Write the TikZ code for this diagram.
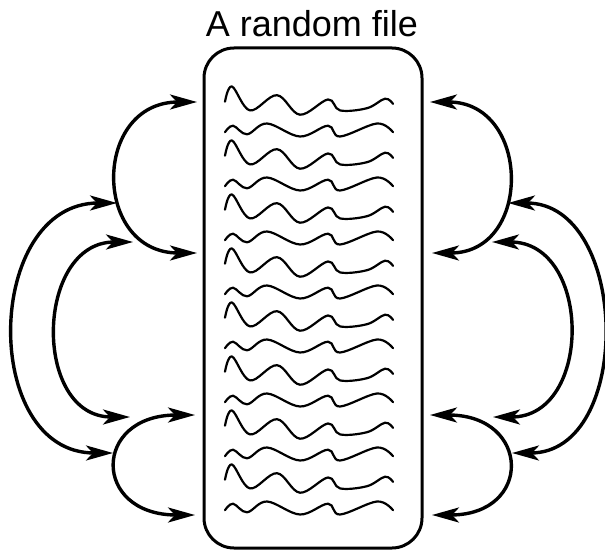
\documentclass[tikz,border=0pt]{standalone}
\usepackage{fontspec}
\setmainfont{Liberation Sans}
\usetikzlibrary{positioning,arrows.meta}

\begin{document}
\begin{tikzpicture}[x=1pt,y=1pt,
  filebox/.style={draw,line width=3pt,rounded corners=30pt,minimum width=218pt,minimum height=500pt},
  wave/.style={line width=2.2pt,line cap=round,line join=round},
  swap/.style={line width=3.4pt,{Stealth[length=27pt,width=15pt,inset=7pt]}-{Stealth[length=27pt,width=15pt,inset=7pt]}}]
\useasboundingbox (0,0) rectangle (605,550);
\node[filebox] (file) at (313,252) {};
\node[font=\fontsize{36}{40}\selectfont,anchor=base] (title) at (312,513) {A random file};
%----lines of the file----%
\foreach \i in {0,2,...,14}
  \draw[wave,shift={(225,447-27*\i)},yscale=1.3] plot[smooth,tension=0.6] coordinates {(0,1) (7,12.7) (25,-5.7) (52,6) (75,-9) (103,2.7) (115,-5.7) (142,-4) (160,3.3) (168,-0.7)};
\foreach \i in {1,3,...,15}
  \draw[wave,shift={(225,447-27*\i)},yscale=1.3] plot[smooth,tension=0.6] coordinates {(0,-1.7) (8,3.3) (22,-3.3) (42,5) (75,-5) (103,3.3) (115,-5) (152,5) (168,-1.7)};
%----left----%
\coordinate (l1a) at (197,448); \coordinate (l1b) at (197,297);
\coordinate (l2a) at (117,347); \coordinate (l2b) at (113,97);
\coordinate (l3a) at (133,308); \coordinate (l3b) at (130,133);
\coordinate (l4a) at (195,135); \coordinate (l4b) at (195,35);
\draw[swap] (l1a) to[out=180,in=180,distance=105pt] (l1b);
\draw[swap] (l2a) to[out=180,in=180,distance=133pt] (l2b);
\draw[swap] (l3a) to[out=180,in=180,distance=98pt] (l3b);
\draw[swap] (l4a) to[out=180,in=180,distance=103pt] (l4b);
%----right----%
\coordinate (r1a) at (430,448); \coordinate (r1b) at (432,297);
\coordinate (r2a) at (508,347); \coordinate (r2b) at (512,97);
\coordinate (r3a) at (492,308); \coordinate (r3b) at (493,133);
\coordinate (r4a) at (430,135); \coordinate (r4b) at (432,35);
\draw[swap] (r1a) to[out=0,in=0,distance=101pt] (r1b);
\draw[swap] (r2a) to[out=0,in=0,distance=122pt] (r2b);
\draw[swap] (r3a) to[out=0,in=0,distance=100pt] (r3b);
\draw[swap] (r4a) to[out=0,in=0,distance=101pt] (r4b);
\end{tikzpicture}
\end{document}
